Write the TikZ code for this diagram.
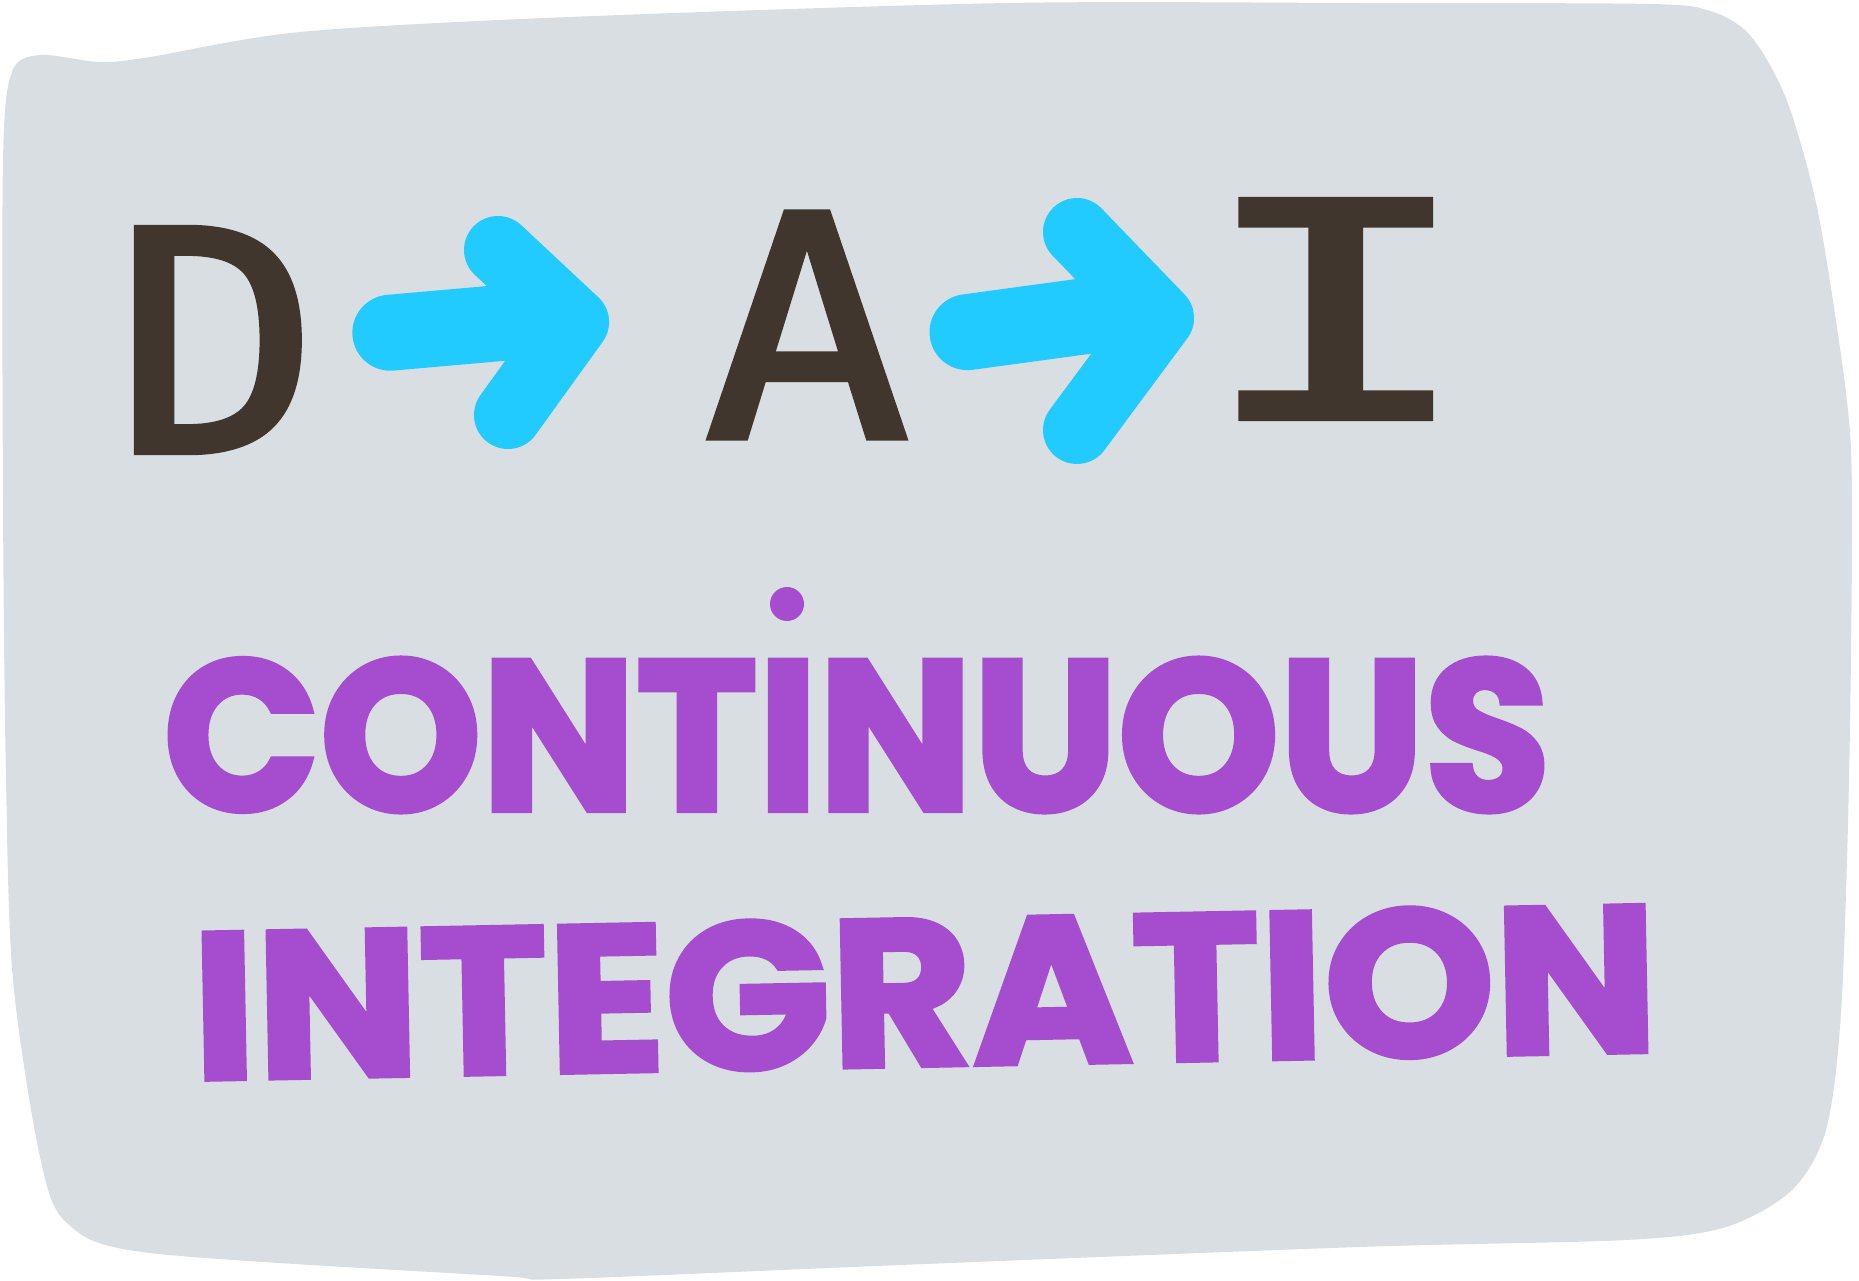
\documentclass[tikz,border=0pt]{standalone}
\usepackage{fontspec}
\usetikzlibrary{calc}
\newfontfamily\letterfont{DejaVu Sans Mono}[FakeBold=2]
\newfontfamily\wordfont{Poppins}[BoldFeatures={FakeBold=2.5}]
\definecolor{bgcol}{HTML}{D8DEE1}
\definecolor{inkbrown}{HTML}{41362E}
\definecolor{skyarrow}{HTML}{22CBFF}
\definecolor{wordpurple}{HTML}{A54DCE}
\begin{document}
\begin{tikzpicture}[x=1pt,y=-1pt,
  letter/.style={inner sep=0pt, text=inkbrown},
  word/.style={inner sep=0pt, text=wordpurple},
  arrowbar/.style={draw=skyarrow, line width=76pt, line cap=round},
  chevron/.style={draw=skyarrow, line width=68pt, line cap=round, line join=round}]
\useasboundingbox (0,0) rectangle (1859,1280);
\fill[bgcol] plot[smooth cycle, tension=0.5] coordinates {
  (3,160) (12,72) (40,55) (100,62) (150,57) (300,32) (569,17) (1008,3)
  (1360,3) (1650,4) (1710,11) (1745,30) (1770,65) (1792,115) (1819,217)
  (1846,393) (1852,500) (1849,780) (1841,1013) (1826,1130) (1792,1190)
  (1726,1227) (1626,1240) (1359,1247) (900,1265) (560,1279) (500,1276)
  (150,1253) (67,1223) (40,1157) (13,980) (6,780) (3,500)};
\node[letter] (D) at (217,340) {\resizebox{205pt}{224pt}{\letterfont D}};
\node[letter] (A) at (807,325) {\resizebox{206pt}{225pt}{\letterfont A}};
\node[letter] (I) at (1336,309) {\resizebox{275pt}{218pt}{\letterfont I}};
\draw[arrowbar, shorten <=174pt, shorten >=248pt] ($(D.center)+(0,8)$) -- ($(A.center)+(0,-29)$);
\draw[chevron] ($(A.center)+(-309,-75)$) -- ($(A.center)+(-232,-3)$) -- ($(A.center)+(-299,90)$);
\draw[arrowbar, shorten <=162pt, shorten >=208pt] ($(A.center)+(0,29)$) -- ($(I.center)+(0,-27)$);
\draw[chevron] ($(I.center)+(-259,-77)$) -- ($(I.center)+(-176,9)$) -- ($(I.center)+(-259,121)$);
\node[word] (cont) at (857,735) {\resizebox{1385pt}{152pt}{\wordfont\bfseries CONTINUOUS}};
\node[circle, fill=wordpurple, inner sep=0pt, minimum size=34pt] (idot) at (787,604) {};
\node[word, rotate=1.1] (integ) at (925,992) {\resizebox{1465pt}{148pt}{\wordfont\bfseries INTEGRATION}};
\end{tikzpicture}
\end{document}
